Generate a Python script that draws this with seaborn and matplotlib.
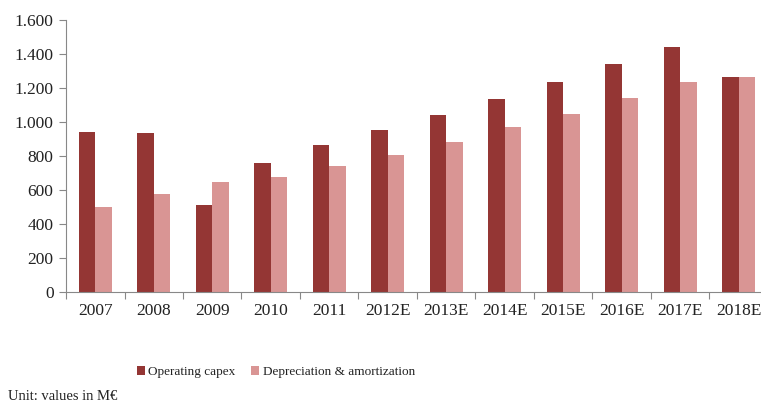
import matplotlib
matplotlib.use("Agg")
import matplotlib.pyplot as plt
import matplotlib.ticker as mticker
import seaborn as sns
import pandas as pd
import numpy as np

years = ["2007", "2008", "2009", "2010", "2011", "2012E", "2013E",
         "2014E", "2015E", "2016E", "2017E", "2018E"]
operating_capex = [940, 935, 512, 757, 862, 950, 1042, 1135, 1235, 1340, 1443, 1265]
depreciation = [500, 578, 645, 678, 738, 803, 882, 970, 1048, 1140, 1233, 1265]
series_names = ["Operating capex", "Depreciation & amortization"]
colors = ["#943634", "#D99594"]

df = pd.DataFrame({
    "year": years * 2,
    "value": operating_capex + depreciation,
    "series": [series_names[0]] * len(years) + [series_names[1]] * len(years),
})

sns.set_style("white")
plt.rcParams["font.family"] = ["Liberation Serif", "DejaVu Serif"]

fig = plt.figure(figsize=(7.61, 4.07), dpi=100)
ax = fig.add_axes([66 / 761, 1 - 291.7 / 407, 702 / 761, (291.7 - 20) / 407])

sns.barplot(data=df, x="year", y="value", hue="series", order=years,
            hue_order=series_names, palette=colors, width=0.57,
            saturation=1, linewidth=0, ax=ax, legend=True)

ax.set_ylim(0, 1600)
ax.set_xlim(-0.5, len(years) - 0.5)
ax.set_yticks(np.arange(0, 1601, 200))
ax.yaxis.set_major_formatter(mticker.FuncFormatter(
    lambda v, p: f"{int(v):,}".replace(",", ".")))
ax.set_xlabel("")
ax.set_ylabel("")

# category boundary ticks on the x axis, labels centred
ax.set_xticks(np.arange(-0.5, len(years), 1.0), minor=True)
ax.tick_params(axis="x", which="major", length=0, pad=8, labelsize=12.5, colors="#222222")
ax.tick_params(axis="x", which="minor", length=5, width=0.8, color="#888888", direction="out")
ax.tick_params(axis="y", length=5, width=0.8, color="#888888", direction="out",
               labelsize=12.5, labelcolor="#222222", pad=4)
ax.xaxis.set_ticks_position("bottom")
ax.yaxis.set_ticks_position("left")

for side in ["top", "right"]:
    ax.spines[side].set_visible(False)
for side in ["left", "bottom"]:
    ax.spines[side].set_color("#888888")
    ax.spines[side].set_linewidth(0.8)

handles, labels = ax.get_legend_handles_labels()
ax.legend_.remove()
fig.legend(handles, labels, loc="center", bbox_to_anchor=(276 / 761, 1 - 372 / 407),
           ncol=2, frameon=False, fontsize=9.5, handlelength=0.6, handleheight=0.6,
           handletextpad=0.25, columnspacing=1.2, labelcolor="#222222")

fig.text(8 / 761, 1 - 396 / 407, "Unit: values in M€", fontsize=10.5,
         color="#222222", va="center", ha="left")

fig.savefig("out.png", dpi=100)
